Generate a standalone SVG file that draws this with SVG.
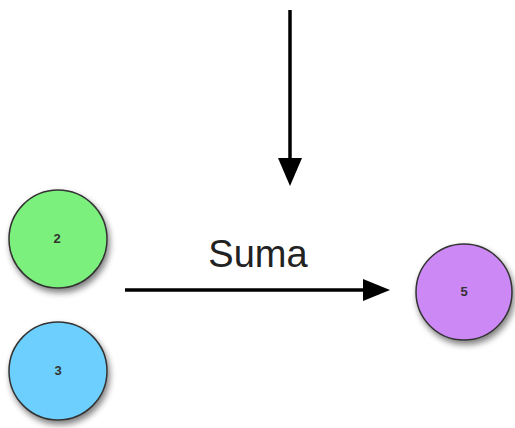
<svg xmlns="http://www.w3.org/2000/svg" width="515" height="428" viewBox="0 0 515 428">
<defs>
<filter id="sh" x="-30%" y="-30%" width="160%" height="160%">
<feGaussianBlur in="SourceAlpha" stdDeviation="3"/>
<feOffset dx="2" dy="4" result="b"/>
<feComponentTransfer><feFuncA type="linear" slope="0.5"/></feComponentTransfer>
<feMerge><feMergeNode/><feMergeNode in="SourceGraphic"/></feMerge>
</filter>
<style>
.node circle{stroke:#333;stroke-width:1.5;filter:url(#sh)}
.lbl{font-family:"Liberation Sans",Arial,sans-serif;font-size:13px;font-weight:bold;fill:#333;text-anchor:middle}
.conn line{stroke:#000;stroke-width:3.5}
</style>
</defs>
<rect width="515" height="428" fill="#fff"/>
<g id="connectors" class="conn">
<line x1="290" y1="10" x2="290" y2="160"/>
<path d="M278,158 L302,158 L290,186 Z" fill="#000"/>
<line x1="125" y1="290" x2="366" y2="290"/>
<path d="M363,279 L390,290 L363,301 Z" fill="#000"/>
<text x="258" y="267" font-family="'Liberation Sans',Arial,sans-serif" font-size="38" fill="#222" text-anchor="middle">Suma</text>
</g>
<g id="node2" class="node">
<circle cx="58" cy="239" r="49" fill="#7CF07C"/>
<text class="lbl" x="57" y="243">2</text>
</g>
<g id="node3" class="node">
<circle cx="58" cy="371" r="49" fill="#6DCFFD"/>
<text class="lbl" x="58" y="375">3</text>
</g>
<g id="node5" class="node">
<circle cx="464" cy="292" r="48" fill="#CC88F5"/>
<text class="lbl" x="464" y="296">5</text>
</g>
</svg>
